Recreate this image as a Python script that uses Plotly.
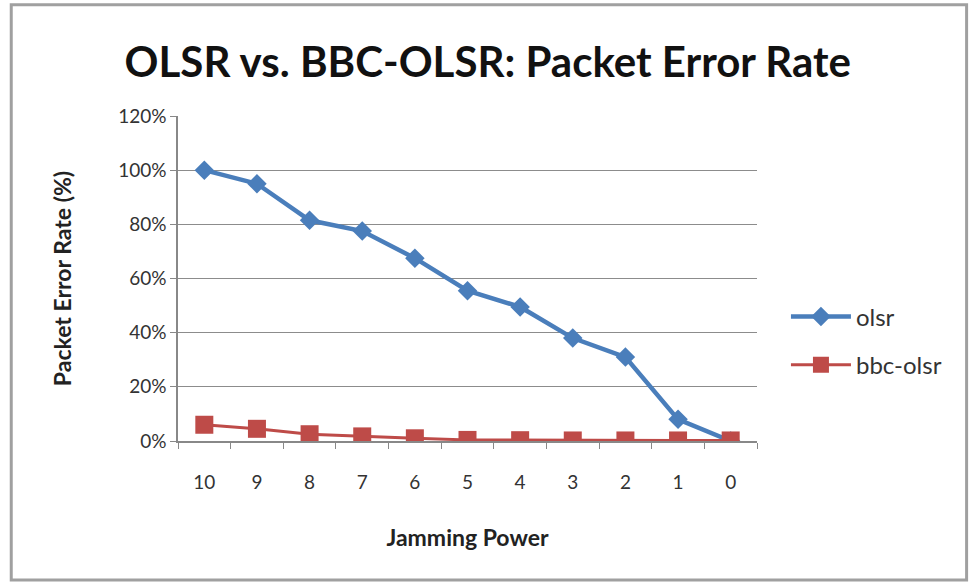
import plotly.graph_objects as go

jamming_power = ["10", "9", "8", "7", "6", "5", "4", "3", "2", "1", "0"]
olsr = [1.00, 0.95, 0.815, 0.775, 0.675, 0.555, 0.495, 0.38, 0.31, 0.08, 0.0]
bbc_olsr = [0.06, 0.045, 0.025, 0.017, 0.01, 0.004, 0.003, 0.002, 0.002, 0.002, 0.002]
y_ticks = [0, 0.2, 0.4, 0.6, 0.8, 1.0, 1.2]
y_tick_labels = ["0%", "20%", "40%", "60%", "80%", "100%", "120%"]

FONT = "Lato, 'Open Sans', sans-serif"

fig = go.Figure()
fig.add_trace(go.Scatter(
    x=jamming_power, y=olsr, name="olsr", mode="lines+markers",
    line=dict(color="#4A7EBB", width=4.5),
    marker=dict(symbol="diamond", size=15, color="#4A7EBB"),
    legendgroup="a",
))
fig.add_trace(go.Scatter(
    x=jamming_power, y=bbc_olsr, name="bbc-olsr", mode="lines+markers",
    line=dict(color="#BE4B48", width=3),
    marker=dict(symbol="square", size=18, color="#BE4B48"),
    legendgroup="b",
))

fig.update_layout(
    width=972, height=583,
    margin=dict(l=178, r=215, t=116, b=142),
    paper_bgcolor="white", plot_bgcolor="white",
    font=dict(family=FONT, color="#333333"),
    title=dict(text="<b>OLSR vs. BBC-OLSR: Packet Error Rate</b>",
               x=0.535, xanchor="center", xref="paper", y=0.893, yanchor="middle",
               font=dict(size=42, color="#111111", family=FONT)),
    showlegend=True,
    legend=dict(x=1.05, xanchor="left", y=0.308, yanchor="middle",
                font=dict(size=24, color="#333333", family=FONT),
                tracegroupgap=14, itemwidth=60, bgcolor="rgba(0,0,0,0)"),
    xaxis=dict(
        type="category", categoryorder="array", categoryarray=jamming_power,
        showgrid=False, showline=True, linecolor="#888888", linewidth=1.5,
        ticks="outside", tickson="boundaries", ticklen=6, tickcolor="#888888",
        tickfont=dict(size=19, color="#333333"), ticklabelstandoff=23,
        title=dict(text="<b>Jamming Power</b>", font=dict(size=23, color="#222222"), standoff=38),
        range=[-0.5, 10.5],
    ),
    yaxis=dict(
        range=[0, 1.2], tickvals=y_ticks, ticktext=y_tick_labels,
        showgrid=True, gridcolor="#8c8c8c", gridwidth=1.3,
        showline=True, linecolor="#888888", linewidth=1.5,
        ticks="outside", ticklen=6, tickcolor="#888888",
        tickfont=dict(size=19, color="#333333"),
        title=dict(text="<b>Packet Error Rate (%)</b>", font=dict(size=23, color="#222222"), standoff=40),
        zeroline=False,
    ),
)

fig.add_shape(type="rect", xref="paper", yref="paper",
              x0=-0.288, x1=1.362, y0=-0.428, y1=1.342,
              line=dict(color="#a0a0a0", width=3), layer="below")

fig.write_html("out.html")
